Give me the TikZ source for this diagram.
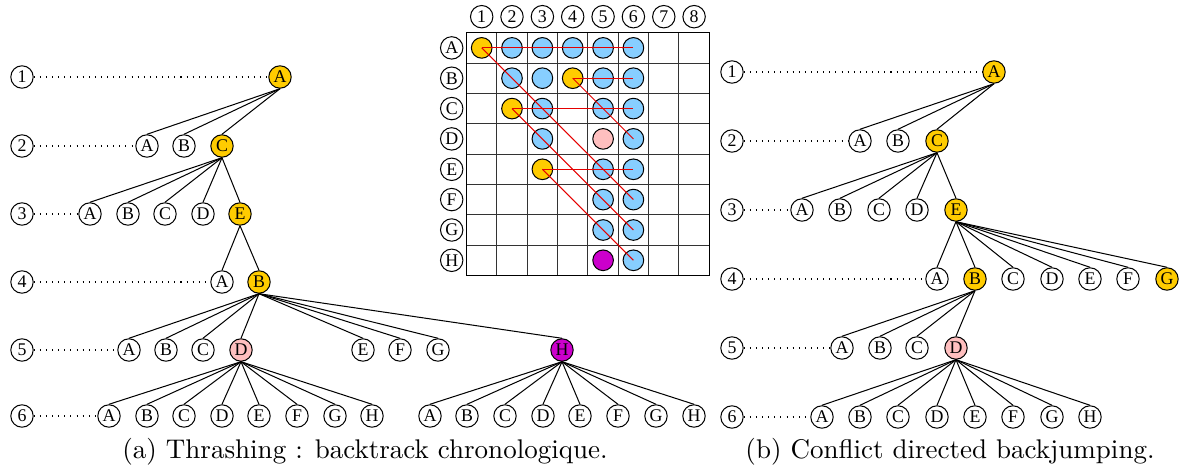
\documentclass[tikz,border=0pt]{standalone}
\usepackage{fontspec}
\newfontfamily\nodefont{Liberation Serif}
\definecolor{queen}{HTML}{FFCC00}
\definecolor{attacked}{HTML}{87CEFF}
\definecolor{conflict}{HTML}{FFBFBF}
\definecolor{deadend}{HTML}{CC00CC}

\begin{document}
\begin{tikzpicture}[x=0.0138cm,y=-0.0138cm,-,line width=0.4pt,
    main node/.style={circle,draw,minimum size=8.8pt,inner sep=0pt,font=\nodefont\fontsize{7}{8}\selectfont},
    chosen node/.style={main node,fill=queen},
    conflict node/.style={main node,fill=conflict},
    dead node/.style={main node,fill=deadend},
    cell node/.style={circle,draw,minimum size=8.1pt,inner sep=0pt},
    level line/.style={dotted},
    caption/.style={font=\fontsize{10.6}{12}\selectfont}]
    \useasboundingbox (0,0) rectangle (1180,471);

    % (a) chronological backtracking
    \node[main node] (aL1) at (22,77) {1};
    \node[main node] (aL2) at (22,146) {2};
    \node[main node] (aL3) at (22,214) {3};
    \node[main node] (aL4) at (22,282) {4};
    \node[main node] (aL5) at (22,350) {5};
    \node[main node] (aL6) at (22,416) {6};

    \node[chosen node] (a1A) at (280,77) {A};

    \node[main node] (a2A) at (147,146) {A};
    \node[main node] (a2B) at (184,146) {B};
    \node[chosen node] (a2C) at (222,146) {C};

    \node[main node] (a3A) at (90,214) {A};
    \node[main node] (a3B) at (128,214) {B};
    \node[main node] (a3C) at (165,214) {C};
    \node[main node] (a3D) at (203,214) {D};
    \node[chosen node] (a3E) at (240,214) {E};

    \node[main node] (a4A) at (222,282) {A};
    \node[chosen node] (a4B) at (259,282) {B};

    \node[main node] (a5A) at (129,350) {A};
    \node[main node] (a5B) at (166,350) {B};
    \node[main node] (a5C) at (203,350) {C};
    \node[conflict node] (a5D) at (241,350) {D};
    \node[main node] (a5E) at (363,350) {E};
    \node[main node] (a5F) at (400,350) {F};
    \node[main node] (a5G) at (438,350) {G};
    \node[dead node] (a5H) at (562,350) {H};

    \node[main node] (a6A) at (109,416) {A};
    \node[main node] (a6B) at (147,416) {B};
    \node[main node] (a6C) at (184,416) {C};
    \node[main node] (a6D) at (222,416) {D};
    \node[main node] (a6E) at (259,416) {E};
    \node[main node] (a6F) at (297,416) {F};
    \node[main node] (a6G) at (335,416) {G};
    \node[main node] (a6H) at (372,416) {H};
    \node[main node] (a7A) at (430,416) {A};
    \node[main node] (a7B) at (467,416) {B};
    \node[main node] (a7C) at (505,416) {C};
    \node[main node] (a7D) at (543,416) {D};
    \node[main node] (a7E) at (580,416) {E};
    \node[main node] (a7F) at (618,416) {F};
    \node[main node] (a7G) at (656,416) {G};
    \node[main node] (a7H) at (694,416) {H};

    \path[level line]
        (aL1) edge (a1A)
        (aL2) edge (a2A)
        (aL3) edge (a3A)
        (aL4) edge (a4A)
        (aL5) edge (a5A)
        (aL6) edge (a6A)
    ;

    \path
        (a1A.south) edge (a2A.north)
        (a1A.south) edge (a2B.north)
        (a1A.south) edge (a2C.north)
        (a2C.south) edge (a3A.north)
        (a2C.south) edge (a3B.north)
        (a2C.south) edge (a3C.north)
        (a2C.south) edge (a3D.north)
        (a2C.south) edge (a3E.north)
        (a3E.south) edge (a4A.north)
        (a3E.south) edge (a4B.north)
        (a4B.south) edge (a5A.north)
        (a4B.south) edge (a5B.north)
        (a4B.south) edge (a5C.north)
        (a4B.south) edge (a5D.north)
        (a4B.south) edge (a5E.north)
        (a4B.south) edge (a5F.north)
        (a4B.south) edge (a5G.north)
        (a4B.south) edge (a5H.north)
    ;

    \path
        (a5D.south) edge (a6A.north)
        (a5D.south) edge (a6B.north)
        (a5D.south) edge (a6C.north)
        (a5D.south) edge (a6D.north)
        (a5D.south) edge (a6E.north)
        (a5D.south) edge (a6F.north)
        (a5D.south) edge (a6G.north)
        (a5D.south) edge (a6H.north)
        (a5H.south) edge (a7A.north)
        (a5H.south) edge (a7B.north)
        (a5H.south) edge (a7C.north)
        (a5H.south) edge (a7D.north)
        (a5H.south) edge (a7E.north)
        (a5H.south) edge (a7F.north)
        (a5H.south) edge (a7G.north)
        (a5H.south) edge (a7H.north)
    ;

    \node[caption] (capA) at (365,452) {(a) Thrashing : backtrack chronologique.};

    % board
    \foreach \k in {1,...,7} {
        \draw[black!80] (466.5+30.35*\k,32.7) -- (466.5+30.35*\k,275.5);
        \draw[black!80] (466.5,32.7+30.35*\k) -- (709.3,32.7+30.35*\k);
    }
    \draw (466.5,32.7) rectangle (709.3,275.5);

    \node[main node] (c1) at (481.7,16.7) {1};
    \node[main node] (c2) at (512.0,16.7) {2};
    \node[main node] (c3) at (542.4,16.7) {3};
    \node[main node] (c4) at (572.7,16.7) {4};
    \node[main node] (c5) at (603.1,16.7) {5};
    \node[main node] (c6) at (633.4,16.7) {6};
    \node[main node] (c7) at (663.8,16.7) {7};
    \node[main node] (c8) at (694.1,16.7) {8};

    \node[main node] (rA) at (451.7,47.9) {A};
    \node[main node] (rB) at (451.7,78.2) {B};
    \node[main node] (rC) at (451.7,108.6) {C};
    \node[main node] (rD) at (451.7,138.9) {D};
    \node[main node] (rE) at (451.7,169.3) {E};
    \node[main node] (rF) at (451.7,199.6) {F};
    \node[main node] (rG) at (451.7,230.0) {G};
    \node[main node] (rH) at (451.7,260.3) {H};

    \node[cell node,fill=queen] (qA1) at (481.7,47.9) {};
    \node[cell node,fill=attacked] (qA2) at (512.0,47.9) {};
    \node[cell node,fill=attacked] (qA3) at (542.4,47.9) {};
    \node[cell node,fill=attacked] (qA4) at (572.7,47.9) {};
    \node[cell node,fill=attacked] (qA5) at (603.1,47.9) {};
    \node[cell node,fill=attacked] (qA6) at (633.4,47.9) {};

    \node[cell node,fill=attacked] (qB2) at (512.0,78.2) {};
    \node[cell node,fill=attacked] (qB3) at (542.4,78.2) {};
    \node[cell node,fill=queen] (qB4) at (572.7,78.2) {};
    \node[cell node,fill=attacked] (qB5) at (603.1,78.2) {};
    \node[cell node,fill=attacked] (qB6) at (633.4,78.2) {};

    \node[cell node,fill=queen] (qC2) at (512.0,108.6) {};
    \node[cell node,fill=attacked] (qC3) at (542.4,108.6) {};
    \node[cell node,fill=attacked] (qC5) at (603.1,108.6) {};
    \node[cell node,fill=attacked] (qC6) at (633.4,108.6) {};

    \node[cell node,fill=attacked] (qD3) at (542.4,138.9) {};
    \node[cell node,fill=conflict] (qD5) at (603.1,138.9) {};
    \node[cell node,fill=attacked] (qD6) at (633.4,138.9) {};

    \node[cell node,fill=queen] (qE3) at (542.4,169.3) {};
    \node[cell node,fill=attacked] (qE5) at (603.1,169.3) {};
    \node[cell node,fill=attacked] (qE6) at (633.4,169.3) {};

    \node[cell node,fill=attacked] (qF5) at (603.1,199.6) {};
    \node[cell node,fill=attacked] (qF6) at (633.4,199.6) {};

    \node[cell node,fill=attacked] (qG5) at (603.1,230.0) {};
    \node[cell node,fill=attacked] (qG6) at (633.4,230.0) {};

    \node[cell node,fill=deadend] (qH5) at (603.1,260.3) {};
    \node[cell node,fill=attacked] (qH6) at (633.4,260.3) {};

    \path[color=red!90!black]
        (qA1.center) edge (qA6.center)
        (qA1.center) edge (qF6.center)
        (qB4.center) edge (qB6.center)
        (qB4.center) edge (qD6.center)
        (qC2.center) edge (qC6.center)
        (qC2.center) edge (qG6.center)
        (qE3.center) edge (qE6.center)
        (qE3.center) edge (qH6.center)
    ;

    % (b) conflict directed backjumping
    \node[main node] (bL1) at (732,72) {1};
    \node[main node] (bL2) at (732,141) {2};
    \node[main node] (bL3) at (732,210) {3};
    \node[main node] (bL4) at (732,279) {4};
    \node[main node] (bL5) at (732,348) {5};
    \node[main node] (bL6) at (732,417) {6};

    \node[chosen node] (b1A) at (994,72) {A};

    \node[main node] (b2A) at (860,141) {A};
    \node[main node] (b2B) at (898,141) {B};
    \node[chosen node] (b2C) at (937,141) {C};

    \node[main node] (b3A) at (802,210) {A};
    \node[main node] (b3B) at (840,210) {B};
    \node[main node] (b3C) at (879,210) {C};
    \node[main node] (b3D) at (917,210) {D};
    \node[chosen node] (b3E) at (956,210) {E};

    \node[main node] (b4A) at (937,279) {A};
    \node[chosen node] (b4B) at (975,279) {B};
    \node[main node] (b4C) at (1013,279) {C};
    \node[main node] (b4D) at (1052,279) {D};
    \node[main node] (b4E) at (1090,279) {E};
    \node[main node] (b4F) at (1128,279) {F};
    \node[chosen node] (b4G) at (1167,279) {G};

    \node[main node] (b5A) at (842,348) {A};
    \node[main node] (b5B) at (880,348) {B};
    \node[main node] (b5C) at (917,348) {C};
    \node[conflict node] (b5D) at (956,348) {D};

    \node[main node] (b6A) at (822,417) {A};
    \node[main node] (b6B) at (860,417) {B};
    \node[main node] (b6C) at (898,417) {C};
    \node[main node] (b6D) at (937,417) {D};
    \node[main node] (b6E) at (975,417) {E};
    \node[main node] (b6F) at (1013,417) {F};
    \node[main node] (b6G) at (1052,417) {G};
    \node[main node] (b6H) at (1090,417) {H};

    \path[level line]
        (bL1) edge (b1A)
        (bL2) edge (b2A)
        (bL3) edge (b3A)
        (bL4) edge (b4A)
        (bL5) edge (b5A)
        (bL6) edge (b6A)
    ;

    \path
        (b1A.south) edge (b2A.north)
        (b1A.south) edge (b2B.north)
        (b1A.south) edge (b2C.north)
        (b2C.south) edge (b3A.north)
        (b2C.south) edge (b3B.north)
        (b2C.south) edge (b3C.north)
        (b2C.south) edge (b3D.north)
        (b2C.south) edge (b3E.north)
        (b3E.south) edge (b4A.north)
        (b3E.south) edge (b4B.north)
        (b3E.south) edge (b4C.north)
        (b3E.south) edge (b4D.north)
        (b3E.south) edge (b4E.north)
        (b3E.south) edge (b4F.north)
        (b3E.south) edge (b4G.north)
        (b4B.south) edge (b5A.north)
        (b4B.south) edge (b5B.north)
        (b4B.south) edge (b5C.north)
        (b4B.south) edge (b5D.north)
    ;

    \path
        (b5D.south) edge (b6A.north)
        (b5D.south) edge (b6B.north)
        (b5D.south) edge (b6C.north)
        (b5D.south) edge (b6D.north)
        (b5D.south) edge (b6E.north)
        (b5D.south) edge (b6F.north)
        (b5D.south) edge (b6G.north)
        (b5D.south) edge (b6H.north)
    ;

    \node[caption] (capB) at (950,452) {(b) Conflict directed backjumping.};
\end{tikzpicture}
\end{document}
